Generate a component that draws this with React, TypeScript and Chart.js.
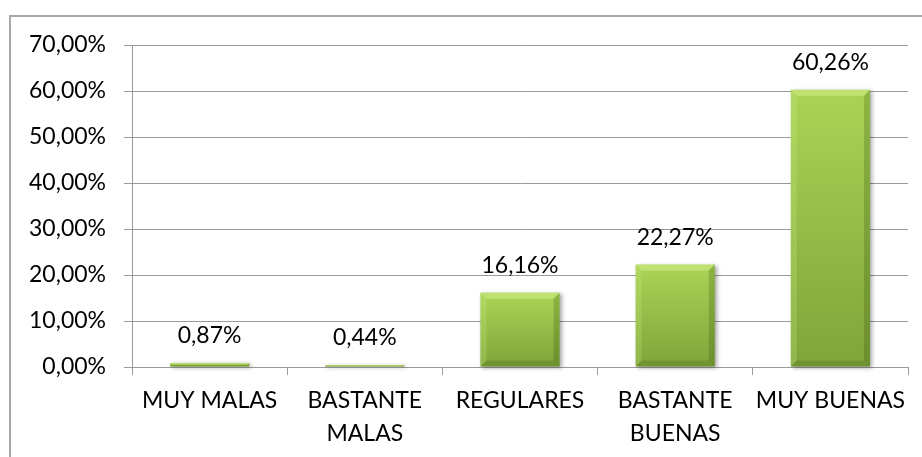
import React, { useEffect, useRef } from "react";
import { Chart, registerables } from "chart.js";

Chart.register(...registerables);

const categories: (string | string[])[] = [
  "MUY MALAS",
  ["BASTANTE", "MALAS"],
  "REGULARES",
  ["BASTANTE", "BUENAS"],
  "MUY BUENAS",
];
const percentages: number[] = [0.87, 0.44, 16.16, 22.27, 60.26];
const yMin = 0;
const yMax = 70;
const yStep = 10;

const FONT = "Lato, 'Open Sans', sans-serif";
const FONT_SIZE = 23;

const fmt = (v: number) => v.toFixed(2).replace(".", ",") + "%";

function drawBevelBar(ctx: CanvasRenderingContext2D, x: number, top: number, base: number, width: number) {
  const l = x - width / 2;
  const r = x + width / 2;
  const h = base - top;
  if (h <= 0) return;
  const b = Math.min(6, h / 2, width / 2);
  ctx.save();
  const g = ctx.createLinearGradient(0, top, 0, base);
  g.addColorStop(0, "#abd456");
  g.addColorStop(1, "#7fa43a");
  ctx.shadowColor = "rgba(0,0,0,0.35)";
  ctx.shadowBlur = 4;
  ctx.shadowOffsetX = 2;
  ctx.shadowOffsetY = 1;
  ctx.fillStyle = g;
  ctx.fillRect(l, top, width, h);
  ctx.shadowColor = "transparent";
  ctx.shadowBlur = 0;
  ctx.shadowOffsetX = 0;
  ctx.shadowOffsetY = 0;
  // top bevel
  ctx.beginPath();
  ctx.moveTo(l, top);
  ctx.lineTo(r, top);
  ctx.lineTo(r - b, top + b);
  ctx.lineTo(l + b, top + b);
  ctx.closePath();
  ctx.fillStyle = "rgba(220,245,150,0.45)";
  ctx.fill();
  // left bevel
  ctx.beginPath();
  ctx.moveTo(l, top);
  ctx.lineTo(l + b, top + b);
  ctx.lineTo(l + b, base - b);
  ctx.lineTo(l, base);
  ctx.closePath();
  ctx.fillStyle = "rgba(200,235,130,0.25)";
  ctx.fill();
  // right bevel
  ctx.beginPath();
  ctx.moveTo(r, top);
  ctx.lineTo(r - b, top + b);
  ctx.lineTo(r - b, base - b);
  ctx.lineTo(r, base);
  ctx.closePath();
  ctx.fillStyle = "rgba(40,70,0,0.22)";
  ctx.fill();
  // bottom bevel
  ctx.beginPath();
  ctx.moveTo(l, base);
  ctx.lineTo(l + b, base - b);
  ctx.lineTo(r - b, base - b);
  ctx.lineTo(r, base);
  ctx.closePath();
  ctx.fillStyle = "rgba(40,70,0,0.18)";
  ctx.fill();
  ctx.restore();
}

const bevelBars = {
  id: "bevelBars",
  afterDatasetsDraw(chart: any) {
    const ctx: CanvasRenderingContext2D = chart.ctx;
    const meta = chart.getDatasetMeta(0);
    meta.data.forEach((el: any, i: number) => {
      const { x, y, base, width } = el.getProps(["x", "y", "base", "width"], true);
      drawBevelBar(ctx, x, y, base, width);
      ctx.save();
      ctx.font = `${FONT_SIZE}px ${FONT}`;
      ctx.fillStyle = "#000";
      ctx.textAlign = "center";
      ctx.textBaseline = "alphabetic";
      ctx.fillText(fmt(percentages[i]), x, y - 20);
      ctx.restore();
    });
  },
};

export default function App() {
  const ref = useRef<HTMLCanvasElement | null>(null);
  useEffect(() => {
    if (!ref.current) return;
    const chart = new Chart(ref.current, {
      type: "bar",
      data: {
        labels: categories,
        datasets: [
          {
            data: percentages,
            backgroundColor: "rgba(0,0,0,0)",
            borderWidth: 0,
            barPercentage: 0.51,
            categoryPercentage: 1,
          },
        ],
      },
      options: {
        animation: false,
        responsive: false,
        maintainAspectRatio: false,
        layout: { padding: { top: 45, right: 14, left: 0, bottom: 0 } },
        plugins: { legend: { display: false }, tooltip: { enabled: false } },
        scales: {
          x: {
            grid: {
              display: true,
              drawOnChartArea: false,
              drawTicks: true,
              tickLength: 8,
              color: "#9a9a9a",
              offset: true,
            },
            border: { display: true, color: "#9a9a9a", width: 1 },
            ticks: {
              color: "#000",
              font: { family: FONT, size: FONT_SIZE, lineHeight: 1.45 },
              padding: 9,
              maxRotation: 0,
              autoSkip: false,
            },
            afterFit: (scale: any) => {
              scale.height = 90;
            },
          },
          y: {
            min: yMin,
            max: yMax,
            grid: { color: "#9a9a9a", tickLength: 8, lineWidth: 1 },
            border: { display: true, color: "#9a9a9a", width: 1 },
            ticks: {
              stepSize: yStep,
              color: "#000",
              font: { family: FONT, size: FONT_SIZE },
              padding: 18,
              callback: (v: any) => fmt(Number(v)),
            },
            afterFit: (scale: any) => {
              scale.width = 132;
            },
          },
        },
      },
      plugins: [bevelBars],
    });
    return () => chart.destroy();
  }, []);

  return (
    <div style={{ position: "fixed", left: 0, top: 0, width: 922, height: 457, overflow: "hidden", background: "#fff" }}>
      <div
        style={{
          position: "absolute",
          left: 9,
          top: 15,
          width: 940,
          height: 480,
          border: "2px solid #a8a8a8",
          boxSizing: "border-box",
        }}
      />
      <canvas ref={ref} width={922} height={457} style={{ position: "absolute", left: 0, top: 0, width: 922, height: 457 }} />
    </div>
  );
}
